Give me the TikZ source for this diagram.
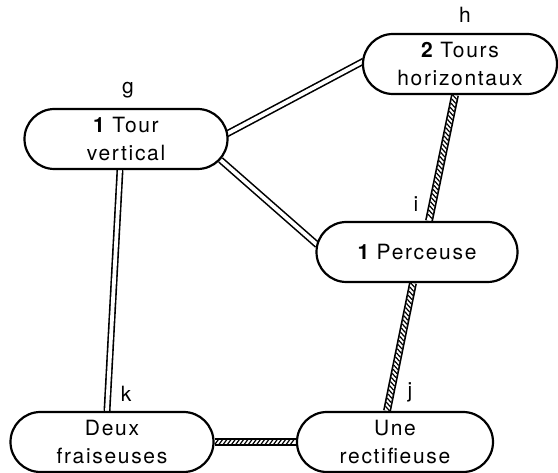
\documentclass[tikz,border=0pt]{standalone}
\usepackage{fontspec}
\setmainfont{TeX Gyre Heros}[LetterSpace=8]
\usetikzlibrary{shapes.misc,calc,backgrounds,decorations.markings}
\tikzset{
  machine/.style={rounded rectangle, draw, line width=2.2pt, fill=white,
    minimum height=60pt, inner sep=0pt, align=center,
    font=\fontsize{21}{28}\selectfont},
  lbl/.style={font=\fontsize{21}{22}\selectfont, inner sep=0pt},
  dbl/.style={draw, line width=1.6pt, double=white, double distance=3.8pt},
  hatchout/.style={draw, line width=8pt},
  hatchin/.style={draw, white, line width=4.6pt},
  hatchmarks/.style={decorate, decoration={markings,
     mark=between positions 2pt and -2pt step 4.2pt with
     {\draw[black, line width=1.2pt] (-1.8pt,-2.4pt) -- (1.8pt,2.4pt);}}}
}
\newcommand{\hatched}[2]{%
  \path[hatchout] #1 -- #2;
  \path[hatchin] #1 -- #2;
  \path[hatchmarks] #1 -- #2;}
\begin{document}
\begin{tikzpicture}[x=1pt,y=-1pt]
\useasboundingbox (0,0) rectangle (558,473);
\node[machine, minimum width=203pt] (g) at (126,139) {{\bfseries 1} Tour\\vertical};
\node[machine, minimum width=194pt] (h) at (460,64) {{\bfseries 2} Tours\\horizontaux};
\node[machine, minimum width=201pt] (p) at (417,252) {{\bfseries 1} Perceuse};
\node[machine, minimum width=203pt] (f) at (112,442) {Deux\\fraiseuses};
\node[machine, minimum width=196pt] (r) at (395,442) {Une\\rectifieuse};
\node[lbl] (lg) at (128,90) {g};
\node[lbl] (lh) at (465,15) {h};
\node[lbl] (li) at (416,204) {i};
\node[lbl] (lj) at (410,392) {j};
\node[lbl] (lk) at (126,394) {k};
\begin{scope}[on background layer]
  \path[dbl] ($(g.east)+(-2,-5)$) -- ($(h.west)+(2,-3)$);
  \path[dbl] ($(g.east)+(-8,21)$) -- ($(p.west)+(2,-7)$);
  \path[dbl] ($(g.south)+(-6,0)$) -- ($(f.north)+(-5,0)$);
  \hatched{($(h.south)+(-5,0)$)}{($(p.north)+(12,0)$)}
  \hatched{($(p.south)+(-4,0)$)}{($(r.north)+(-8,0)$)}
  \hatched{(f.east)}{(r.west)}
\end{scope}
\end{tikzpicture}
\end{document}
